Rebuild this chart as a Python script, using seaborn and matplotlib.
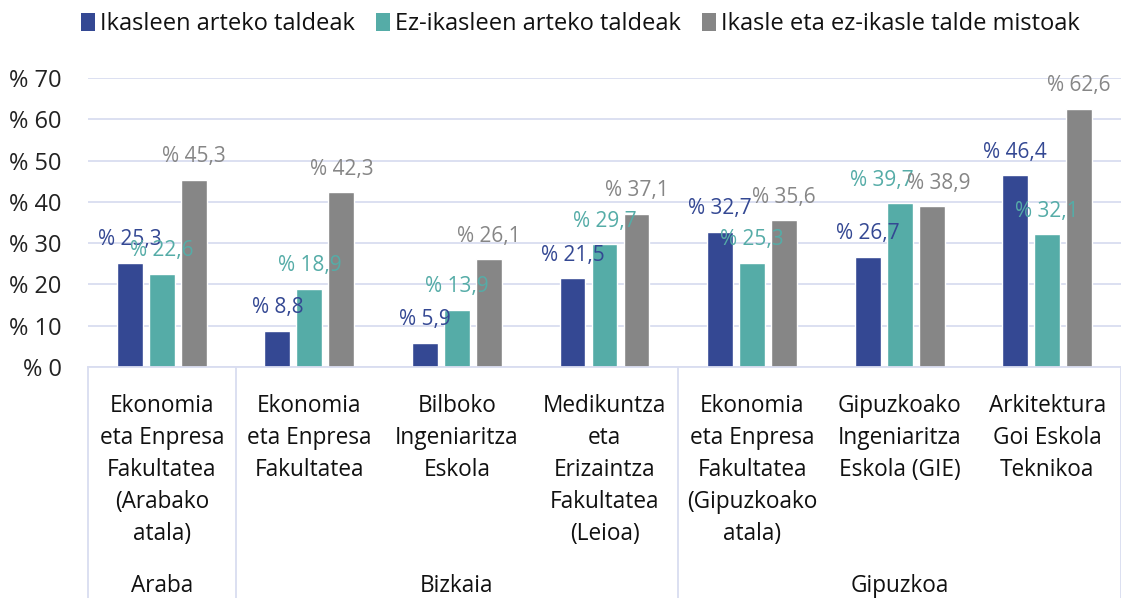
import matplotlib
matplotlib.use("Agg")
import matplotlib.pyplot as plt
from matplotlib.patches import Patch
from matplotlib.lines import Line2D
import matplotlib.transforms as mtransforms
import seaborn as sns
import pandas as pd

categories = [
    "Ekonomia\neta Enpresa\nFakultatea\n(Arabako\natala)",
    "Ekonomia\neta Enpresa\nFakultatea",
    "Bilboko\nIngeniaritza\nEskola",
    "Medikuntza\neta\nErizaintza\nFakultatea\n(Leioa)",
    "Ekonomia\neta Enpresa\nFakultatea\n(Gipuzkoako\natala)",
    "Gipuzkoako\nIngeniaritza\nEskola (GIE)",
    "Arkitektura\nGoi Eskola\nTeknikoa",
]
groups = ["Araba", "Bizkaia", "Gipuzkoa"]
group_spans = [(0, 0), (1, 3), (4, 6)]
series_names = ["Ikasleen arteko taldeak", "Ez-ikasleen arteko taldeak",
                "Ikasle eta ez-ikasle talde mistoak"]
ikasleen = [25.3, 8.8, 5.9, 21.5, 32.7, 26.7, 46.4]
ez_ikasleen = [22.6, 18.9, 13.9, 29.7, 25.3, 39.7, 32.1]
mistoak = [45.3, 42.3, 26.1, 37.1, 35.6, 38.9, 62.6]
yticks = [0, 10, 20, 30, 40, 50, 60, 70]

colors = ["#344893", "#55ACA7", "#868686"]
grid_c = "#D9DDF0"
# horizontal nudges (pixels) for a few crowded data labels: (series, category) -> dx
label_nudge = {(1, 5): -18, (2, 5): 7}

rows = []
for s, vals in zip(series_names, [ikasleen, ez_ikasleen, mistoak]):
    for i, v in enumerate(vals):
        rows.append({"cat": i, "series": s, "value": v})
df = pd.DataFrame(rows)

sns.set_theme(style="white")
plt.rcParams["font.family"] = ["Open Sans", "DejaVu Sans"]

fig = plt.figure(figsize=(11.21, 5.98), dpi=100)
ax = fig.add_axes([88/1121, 1-367/598, 1-88/1121, (367-78)/598])

sns.barplot(data=df, x="cat", y="value", hue="series", palette=colors,
            width=0.65, gap=0.19, ax=ax, legend=False, saturation=1)

ax.set_ylim(0, 70)
ax.set_xlim(-0.5, 6.5)
ax.set_yticks(yticks)
ax.set_yticklabels([f"% {t}" for t in yticks], fontsize=17, color="#222222")
ax.tick_params(axis="y", length=0, pad=19)
ax.set_xticks([])
ax.set_xlabel("")
ax.set_ylabel("")
ax.grid(axis="y", color=grid_c, linewidth=1.3)
ax.set_axisbelow(True)
for sp in ["top", "right", "left"]:
    ax.spines[sp].set_visible(False)
ax.spines["bottom"].set_color(grid_c)
ax.spines["bottom"].set_linewidth(1.3)

for si, (cont, col) in enumerate(zip(ax.containers, colors)):
    for ci, (bar, v) in enumerate(zip(cont.patches, cont.datavalues)):
        dx = label_nudge.get((si, ci), 0) * 0.72
        ax.annotate(f"% {v:.1f}".replace(".", ","),
                    (bar.get_x() + bar.get_width() / 2, bar.get_height()),
                    xytext=(dx, 9), textcoords="offset points", ha="center",
                    va="bottom", color=col, fontsize=15)

trans = mtransforms.blended_transform_factory(ax.transData, ax.transAxes)
ybot_ax = (367 - 598) / (367 - 78)
for i, c in enumerate(categories):
    ax.text(i, (367 - 394) / (367 - 78), c, transform=trans, ha="center", va="top",
            fontsize=16.3, linespacing=1.44, color="#111111", clip_on=False)
for g, (a, b) in zip(groups, group_spans):
    ax.text((a + b) / 2, (367 - 586) / (367 - 78), g, transform=trans, ha="center",
            va="center", fontsize=16.3, color="#111111", clip_on=False)
for xs in [-0.5, 0.5, 3.5, 6.5]:
    ax.add_line(Line2D([xs, xs], [0, ybot_ax], transform=trans, color=grid_c,
                       linewidth=1.3, clip_on=False))

handles = [Patch(facecolor=c, edgecolor="none") for c in colors]
fig.legend(handles, series_names, loc="center", bbox_to_anchor=(580/1121, 1-24/598),
           ncol=3, frameon=False, fontsize=17, handlelength=0.6, handleheight=0.8,
           handletextpad=0.2, columnspacing=0.9, labelcolor="#111111")

fig.savefig("out.png", dpi=100)
